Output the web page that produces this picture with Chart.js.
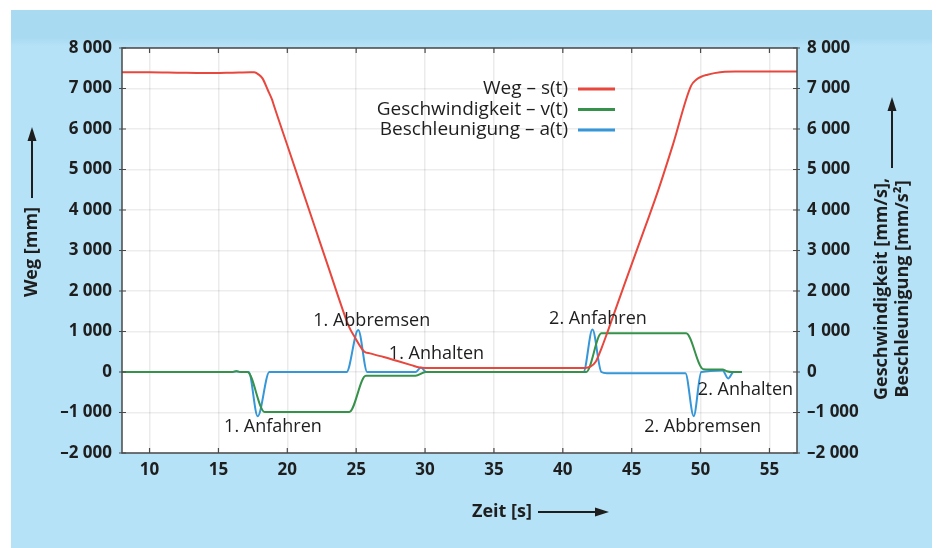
<!DOCTYPE html>
<html lang="de">
<head>
  <meta charset="UTF-8">
  <title>Weg, Geschwindigkeit und Beschleunigung</title>
  <style>
    body {
      margin: 0;
      background: #ffffff;
    }
    .panel {
      position: absolute;
      left: 11px;
      top: 10px;
      width: 921px;
      height: 538px;
      background: linear-gradient(to bottom, #a8daf2 0px, #a8daf2 28px, #b6e2f7 36px, #b6e2f7 100%);
    }
    .wrap {
      position: absolute;
      left: 0;
      top: 0;
    }
  </style>
</head>
<body>
  <div class="panel"></div>
  <div class="wrap"><canvas id="chart" width="937" height="548"></canvas></div>

  <script src="https://cdn.jsdelivr.net/npm/chart.js"></script>
  <script>
    // Weg s(t) [mm]
    const wegT = [8, 10, 12, 14, 16, 17.3, 17.6, 17.9, 18.2, 18.6, 18.9, 19, 20, 21, 22, 23, 24, 24.5, 24.9, 25.6, 26, 27, 28, 29, 29.6, 30, 35, 41.6, 42, 42.4, 42.8, 43.3, 44.5, 46, 46.93, 48, 49.3, 49.7, 50.04, 50.5, 51, 51.76, 52.5, 55, 57];
    const wegS = [7400, 7400, 7390, 7380, 7390, 7400, 7400, 7350, 7250, 6950, 6720, 6610, 5600, 4590, 3580, 2570, 1560, 1100, 860, 500, 460, 370, 270, 170, 110, 100, 100, 100, 130, 260, 580, 1040, 2190, 3600, 4490, 5620, 7060, 7220, 7290, 7340, 7380, 7415, 7420, 7420, 7420];

    // Geschwindigkeit v(t) [mm/s]
    const vT = [8, 16, 16.3, 16.6, 17.1, 18.35, 20, 24.5, 25.7, 29.3, 30.05, 35, 41.7, 42.8, 45, 48.95, 50.2, 51.6, 51.9, 52.3, 53];
    const vV = [0, 0, 20, 0, 0, -985, -985, -985, -95, -95, 0, 0, 0, 955, 955, 955, 70, 60, 20, 0, 0];

    // Beschleunigung a(t) [mm/s²]
    const aT = [8, 16, 16.3, 16.6, 17.2, 17.85, 18.7, 24.3, 25.15, 25.8, 29.3, 29.7, 30.1, 41.5, 42.15, 42.8, 43.2, 48.9, 49.5, 50.05, 51.6, 52.0, 52.4, 53];
    const aA = [0, 0, 20, 0, 0, -1090, 0, 0, 1040, 0, 0, 110, 0, 0, 1050, 0, -30, -30, -1090, 0, 40, -160, 0, 0];

    const seriesLabels = ['Weg \u2013 s(t)', 'Geschwindigkeit \u2013 v(t)', 'Beschleunigung \u2013 a(t)'];
    const seriesColors = ['#e8473d', '#36924a', '#3596d8'];

    const xTicks = [10, 15, 20, 25, 30, 35, 40, 45, 50, 55];

    // Beschriftungen im Diagramm: Text, Zeit, Wert
    const noteText = ['1. Abbremsen', '1. Anhalten', '1. Anfahren', '2. Anfahren', '2. Anhalten', '2. Abbremsen'];
    const noteT = [26.13, 30.83, 18.96, 42.55, 53.26, 50.15];
    const noteV = [1267, 444, -1350, 1309, -444, -1350];

    const FONT = "'Open Sans', 'DejaVu Sans', sans-serif";
    Chart.defaults.font.family = FONT;

    function pairs(xs, ys) {
      return xs.map((x, i) => ({ x: x, y: ys[i] }));
    }

    function fmt(v) {
      const a = Math.abs(v);
      let s = a >= 1000 ? Math.floor(a / 1000) + ' ' + String(a % 1000).padStart(3, '0') : String(a);
      return (v < 0 ? '\u2013' : '') + s;
    }

    function arrow(ctx, x1, y1, x2, y2) {
      const ang = Math.atan2(y2 - y1, x2 - x1);
      ctx.beginPath();
      ctx.moveTo(x1, y1);
      ctx.lineTo(x2 - 10 * Math.cos(ang), y2 - 10 * Math.sin(ang));
      ctx.stroke();
      ctx.beginPath();
      ctx.moveTo(x2, y2);
      ctx.lineTo(x2 - 14 * Math.cos(ang) + 4.5 * Math.sin(ang), y2 - 14 * Math.sin(ang) - 4.5 * Math.cos(ang));
      ctx.lineTo(x2 - 14 * Math.cos(ang) - 4.5 * Math.sin(ang), y2 - 14 * Math.sin(ang) + 4.5 * Math.cos(ang));
      ctx.closePath();
      ctx.fill();
    }

    const plotBg = {
      id: 'plotBg',
      beforeDraw(chart) {
        const a = chart.chartArea, ctx = chart.ctx;
        ctx.save();
        ctx.fillStyle = '#ffffff';
        ctx.fillRect(a.left, a.top, a.right - a.left, a.bottom - a.top);
        ctx.restore();
      }
    };

    const extras = {
      id: 'extras',
      afterDraw(chart) {
        const a = chart.chartArea, ctx = chart.ctx;
        const xs = chart.scales.x, ys = chart.scales.y;
        ctx.save();

        // Rahmen
        ctx.strokeStyle = '#4a4a4a';
        ctx.lineWidth = 1.5;
        ctx.strokeRect(a.left, a.top, a.right - a.left, a.bottom - a.top);

        // kleine Teilstriche
        ctx.lineWidth = 1.2;
        xTicks.forEach(t => {
          const px = xs.getPixelForValue(t);
          ctx.beginPath();
          ctx.moveTo(px, a.bottom); ctx.lineTo(px, a.bottom - 5);
          ctx.moveTo(px, a.top); ctx.lineTo(px, a.top + 5);
          ctx.stroke();
        });
        for (let v = -2000; v <= 8000; v += 1000) {
          const py = ys.getPixelForValue(v);
          ctx.beginPath();
          ctx.moveTo(a.left - 3, py); ctx.lineTo(a.left + 4, py);
          ctx.moveTo(a.right - 4, py); ctx.lineTo(a.right + 3, py);
          ctx.stroke();
        }

        // Legende
        ctx.font = '19px ' + FONT;
        ctx.textAlign = 'right';
        ctx.textBaseline = 'middle';
        chart.data.datasets.forEach((ds, i) => {
          const y = 89 + i * 20.5;
          ctx.fillStyle = '#1e1e1e';
          ctx.fillText(ds.label, 568, y);
          ctx.strokeStyle = ds.borderColor;
          ctx.lineWidth = 3;
          ctx.beginPath();
          ctx.moveTo(578, y);
          ctx.lineTo(615, y);
          ctx.stroke();
        });

        // Beschriftungen
        ctx.font = '18px ' + FONT;
        ctx.textAlign = 'center';
        ctx.fillStyle = '#1e1e1e';
        noteText.forEach((txt, i) => {
          ctx.fillText(txt, xs.getPixelForValue(noteT[i]), ys.getPixelForValue(noteV[i]));
        });

        // Achsentitel
        ctx.font = 'bold 18px ' + FONT;
        ctx.fillStyle = '#1e1e1e';
        ctx.strokeStyle = '#1e1e1e';
        ctx.lineWidth = 2;

        ctx.save();
        ctx.translate(32, 252);
        ctx.rotate(-Math.PI / 2);
        ctx.fillText('Weg [mm]', 0, 0);
        ctx.restore();
        arrow(ctx, 32, 198, 32, 127);

        ctx.save();
        ctx.translate(882, 289);
        ctx.rotate(-Math.PI / 2);
        ctx.fillText('Geschwindigkeit [mm/s],', 0, 0);
        ctx.fillText('Beschleunigung [mm/s\u00b2]', 0, 21);
        ctx.restore();
        arrow(ctx, 892, 168, 892, 97);

        ctx.textAlign = 'left';
        ctx.fillText('Zeit [s]', 472, 512);
        arrow(ctx, 538, 512, 609, 512);

        ctx.restore();
      }
    };

    const tickFont = { size: 17, weight: 'bold' };

    new Chart(document.getElementById('chart'), {
      type: 'line',
      data: {
        datasets: [
          { label: seriesLabels[0], data: pairs(wegT, wegS), borderColor: seriesColors[0] },
          { label: seriesLabels[1], data: pairs(vT, vV), borderColor: seriesColors[1] },
          { label: seriesLabels[2], data: pairs(aT, aA), borderColor: seriesColors[2] }
        ]
      },
      options: {
        responsive: false,
        animation: false,
        layout: { padding: { top: 48, left: 0, right: 0, bottom: 0 } },
        elements: {
          line: { borderWidth: 2, fill: false, cubicInterpolationMode: 'monotone' },
          point: { radius: 0 }
        },
        plugins: {
          legend: { display: false },
          tooltip: { enabled: false }
        },
        scales: {
          x: {
            type: 'linear',
            min: 8,
            max: 57,
            afterBuildTicks: s => { s.ticks = xTicks.map(v => ({ value: v })); },
            afterFit: s => { s.height = 95; },
            grid: { color: 'rgba(0,0,0,0.08)', lineWidth: 1.5, drawTicks: false },
            border: { display: false },
            ticks: { font: tickFont, color: '#1e1e1e', padding: 7, maxRotation: 0 }
          },
          y: {
            position: 'left',
            min: -2000,
            max: 8000,
            afterFit: s => { s.width = 122; },
            grid: { color: 'rgba(0,0,0,0.07)', lineWidth: 1.5, drawTicks: false },
            border: { display: false },
            ticks: { stepSize: 1000, font: tickFont, color: '#1e1e1e', padding: 10, callback: v => fmt(v) }
          },
          y2: {
            position: 'right',
            min: -2000,
            max: 8000,
            afterFit: s => { s.width = 140; },
            grid: { drawOnChartArea: false, drawTicks: false },
            border: { display: false },
            ticks: { stepSize: 1000, font: tickFont, color: '#1e1e1e', padding: 10, callback: v => fmt(v) }
          }
        }
      },
      plugins: [plotBg, extras]
    });
  </script>
</body>
</html>
